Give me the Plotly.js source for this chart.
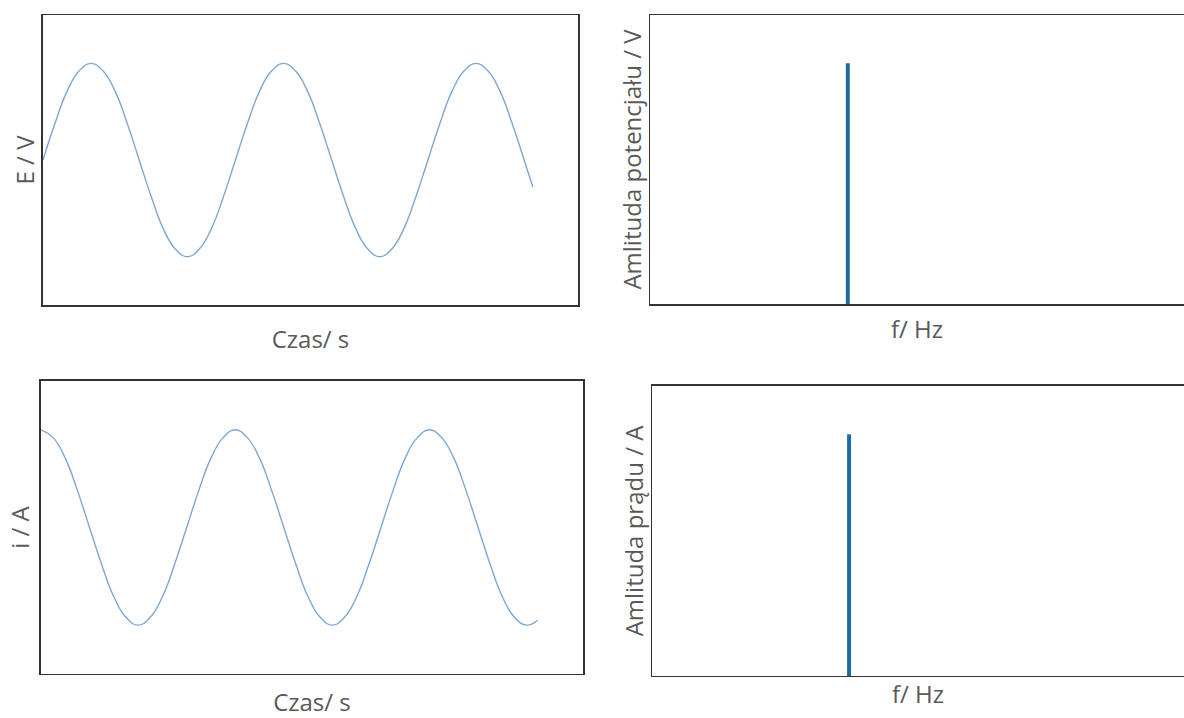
<!DOCTYPE html>
<html>
<head>
<meta charset="utf-8">
<script src="https://cdn.plot.ly/plotly-3.0.1.min.js"></script>
<style>html,body{margin:0;padding:0;background:#fff;}#chart{width:1184px;height:718px;}</style>
</head>
<body>
<div id="chart"></div>
<script>
// Time axis samples (s) at 1/16-period steps
const timeE = [0, 0.0625, 0.125, 0.1875, 0.25, 0.3125, 0.375, 0.4375, 0.5, 0.5625, 0.625, 0.6875, 0.75, 0.8125, 0.875, 0.9375,
  1.0, 1.0625, 1.125, 1.1875, 1.25, 1.3125, 1.375, 1.4375, 1.5, 1.5625, 1.625, 1.6875, 1.75, 1.8125, 1.875, 1.9375,
  2.0, 2.0625, 2.125, 2.1875, 2.25, 2.3125, 2.375, 2.4375, 2.5, 2.545];
const potentialE = [0, 0.38, 0.71, 0.92, 1, 0.92, 0.71, 0.38, 0, -0.38, -0.71, -0.92, -1, -0.92, -0.71, -0.38,
  0, 0.38, 0.71, 0.92, 1, 0.92, 0.71, 0.38, 0, -0.38, -0.71, -0.92, -1, -0.92, -0.71, -0.38,
  0, 0.38, 0.71, 0.92, 1, 0.92, 0.71, 0.38, 0, -0.28];
const timeI = [0, 0.0625, 0.125, 0.1875, 0.25, 0.3125, 0.375, 0.4375, 0.5, 0.5625, 0.625, 0.6875, 0.75, 0.8125, 0.875, 0.9375,
  1.0, 1.0625, 1.125, 1.1875, 1.25, 1.3125, 1.375, 1.4375, 1.5, 1.5625, 1.625, 1.6875, 1.75, 1.8125, 1.875, 1.9375,
  2.0, 2.0625, 2.125, 2.1875, 2.25, 2.3125, 2.375, 2.4375, 2.5, 2.556];
const currentI = [1, 0.92, 0.71, 0.38, 0, -0.38, -0.71, -0.92, -1, -0.92, -0.71, -0.38, 0, 0.38, 0.71, 0.92,
  1, 0.92, 0.71, 0.38, 0, -0.38, -0.71, -0.92, -1, -0.92, -0.71, -0.38, 0, 0.38, 0.71, 0.92,
  1, 0.92, 0.71, 0.38, 0, -0.38, -0.71, -0.92, -1, -0.95];
// Spectra
const freqE = [1];
const ampE = [1];
const freqI = [1];
const ampI = [1];

const lineColor = '#7ba7d7';
const barColor = '#1c6aa8';
const txt = {family: '"Open Sans", sans-serif', size: 24, color: '#595959'};

const traces = [
  {type: 'scatter', mode: 'lines', x: timeE, y: potentialE, xaxis: 'x', yaxis: 'y',
   line: {color: lineColor, width: 1.4, shape: 'spline', smoothing: 1.3}, hoverinfo: 'skip'},
  {type: 'bar', x: freqE, y: ampE, xaxis: 'x2', yaxis: 'y2', width: 0.02,
   marker: {color: barColor, line: {width: 0}}, hoverinfo: 'skip'},
  {type: 'scatter', mode: 'lines', x: timeI, y: currentI, xaxis: 'x3', yaxis: 'y3',
   line: {color: lineColor, width: 1.4, shape: 'spline', smoothing: 1.3}, hoverinfo: 'skip'},
  {type: 'bar', x: freqI, y: ampI, xaxis: 'x4', yaxis: 'y4', width: 0.02,
   marker: {color: barColor, line: {width: 0}}, hoverinfo: 'skip'}
];

function ax(domain, range, title, standoff, mirror) {
  return {
    domain: domain, range: range, showgrid: false, zeroline: false,
    showticklabels: false, ticks: '', showline: true, linecolor: '#333333', linewidth: 1.5,
    mirror: mirror, fixedrange: true,
    title: {text: title, font: txt, standoff: standoff}
  };
}

const layout = {
  width: 1184, height: 718,
  margin: {l: 0, r: 0, t: 0, b: 0},
  paper_bgcolor: '#ffffff', plot_bgcolor: '#ffffff',
  showlegend: false,
  xaxis:  ax([0.0363, 0.4882], [0, 2.78], 'Czas/ s', 25, true),
  yaxis:  ax([0.5752, 0.9791], [-1.5, 1.5], 'E / V', 0, true),
  xaxis2: ax([0.549, 1.0], [0, 2.7], 'f/ Hz', 16, true),
  yaxis2: ax([0.5766, 0.9791], [0, 1.2], 'Amlituda potencjału / V', 0, false),
  xaxis3: ax([0.0346, 0.4924], [0, 2.79], 'Czas/ s', 22, true),
  yaxis3: ax([0.0613, 0.4694], [-1.5, 1.5], 'i / A', 3, true),
  xaxis4: ax([0.5507, 1.0], [0, 2.7], 'f/ Hz', 9, true),
  yaxis4: ax([0.0585, 0.4624], [0, 1.2], 'Amlituda prądu / A', 0, false)
};
layout.xaxis.anchor = 'y'; layout.yaxis.anchor = 'x';
layout.xaxis2.anchor = 'y2'; layout.yaxis2.anchor = 'x2';
layout.xaxis3.anchor = 'y3'; layout.yaxis3.anchor = 'x3';
layout.xaxis4.anchor = 'y4'; layout.yaxis4.anchor = 'x4';

Plotly.newPlot('chart', traces, layout, {staticPlot: true, displayModeBar: false});
</script>
</body>
</html>
